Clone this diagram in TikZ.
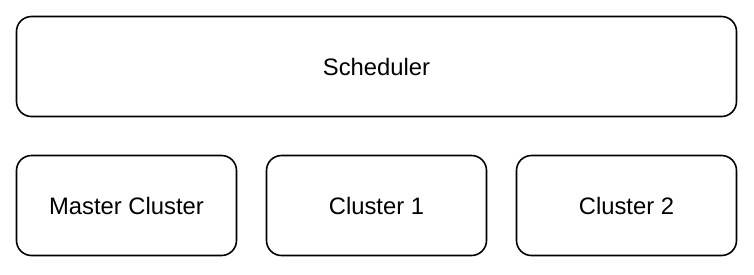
\documentclass[tikz,border=0pt]{standalone}
\usepackage{fontspec}
\setmainfont{Liberation Sans}
\usetikzlibrary{positioning}
\begin{document}
\begin{tikzpicture}[x=1pt, y=1pt, node distance=37.4pt and 28.4pt, every node/.style={font=\fontsize{23.8}{28}\selectfont}, box/.style={draw,line width=1.6pt,rounded corners=15pt,minimum height=100pt,inner sep=0pt}]
\useasboundingbox (0,0) rectangle (754,-274);
\node[box, minimum width=720pt] (scheduler) at (376.5,-66.5) {Scheduler};
\node[box, minimum width=220pt, below=of scheduler.south west, anchor=north west] (master) {Master Cluster};
\node[box, minimum width=220pt, right=of master] (cluster1) {Cluster 1};
\node[box, minimum width=220pt, right=of cluster1] (cluster2) {Cluster 2};
\end{tikzpicture}
\end{document}
